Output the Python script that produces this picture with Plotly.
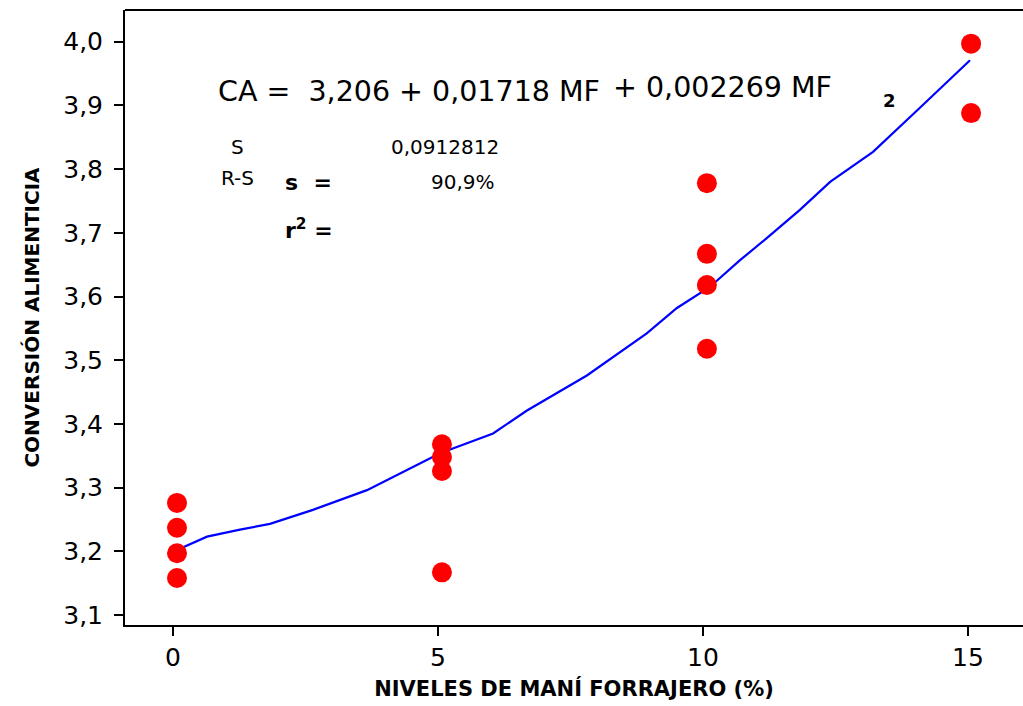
import plotly.graph_objects as go

# Observed data (MF level, feed conversion)
mf_obs = [0.075, 0.075, 0.075, 0.075,
          5.075, 5.075, 5.075, 5.075,
          10.075, 10.075, 10.075, 10.075,
          15.06, 15.06]
ca_obs = [3.276, 3.237, 3.197, 3.158,
          3.368, 3.348, 3.326, 3.167,
          3.778, 3.667, 3.618, 3.518,
          3.997, 3.888]

# Fitted curve as drawn
mf_fit = [0.075, 0.642, 1.264, 1.83, 2.64, 3.66, 5.04, 6.04, 6.68, 7.17, 7.81,
          8.94, 9.51, 10.13, 10.70, 11.21, 11.83, 12.40, 13.21, 14.09, 15.04]
ca_fit = [3.202, 3.223, 3.234, 3.243, 3.265, 3.296, 3.354, 3.385, 3.421, 3.445, 3.476,
          3.542, 3.582, 3.615, 3.657, 3.692, 3.736, 3.780, 3.827, 3.896, 3.971]

x_ticks = [0, 5, 10, 15]
x_tick_labels = ["0", "5", "10", "15"]
y_ticks = [3.1, 3.2, 3.3, 3.4, 3.5, 3.6, 3.7, 3.8, 3.9, 4.0]
y_tick_labels = ["3,1", "3,2", "3,3", "3,4", "3,5", "3,6", "3,7", "3,8", "3,9", "4,0"]

FONT = "DejaVu Sans"

fig = go.Figure()
fig.add_trace(go.Scatter(x=mf_fit, y=ca_fit, mode="lines",
                         line=dict(color="#0000ff", width=2.2), showlegend=False))
fig.add_trace(go.Scatter(x=mf_obs, y=ca_obs, mode="markers",
                         marker=dict(color="#ff0000", size=20, line=dict(width=0)),
                         showlegend=False))

W, H = 1023, 706
L, R, T, B = 125, 0, 10, 81
PW, PH = W - L - R, H - T - B


def px(xp):
    return (xp - L) / PW


def py(yp):
    return (H - B - yp) / PH


annots = [
    dict(text="CA =  3,206 + 0,01718 MF", x=px(216), y=py(92), size=28.5),
    dict(text="+ 0,002269 MF", x=px(611), y=py(87), size=28.5),
    dict(text="<b>2</b>", x=px(881), y=py(101), size=18),
    dict(text="S", x=px(229), y=py(147), size=20),
    dict(text="0,0912812", x=px(389), y=py(147), size=20),
    dict(text="R-S", x=px(219), y=py(178), size=20),
    dict(text="90,9%", x=px(429), y=py(182), size=20),
    dict(text="<b>s  =</b>", x=px(283), y=py(183), size=22),
    dict(text="<b>r<sup>2</sup> =</b>", x=px(283), y=py(229), size=22),
]
for a in annots:
    fig.add_annotation(text=a["text"], x=a["x"], y=a["y"], xref="paper", yref="paper",
                       xanchor="left", yanchor="middle", showarrow=False,
                       font=dict(family=FONT, size=a["size"], color="#000000"))

fig.add_shape(type="line", xref="paper", yref="paper", x0=0, x1=1, y0=1, y1=1,
              line=dict(color="#000000", width=2))

fig.update_layout(
    width=W, height=H,
    margin=dict(l=L, r=R, t=T, b=B),
    paper_bgcolor="white", plot_bgcolor="white",
    font=dict(family=FONT, color="#000000"),
    xaxis=dict(range=[-0.906, 16.04], tickmode="array", tickvals=x_ticks,
               ticktext=x_tick_labels, showgrid=False, zeroline=False,
               showline=True, linecolor="#000000", linewidth=2,
               ticks="outside", ticklen=9, tickwidth=2, tickcolor="#000000",
               tickfont=dict(family=FONT, size=25, color="#000000"),
               title=dict(text="<b>NIVELES DE MANÍ FORRAJERO (%)</b>",
                          font=dict(family=FONT, size=21, color="#000000"),
                          standoff=10)),
    yaxis=dict(range=[3.0843, 4.0498], tickmode="array", tickvals=y_ticks,
               ticktext=y_tick_labels, showgrid=False, zeroline=False,
               showline=True, linecolor="#000000", linewidth=2,
               ticks="outside", ticklen=9, tickwidth=2, tickcolor="#000000",
               ticklabelstandoff=6,
               tickfont=dict(family=FONT, size=25, color="#000000"),
               title=dict(text="<b>CONVERSIÓN ALIMENTICIA</b>",
                          font=dict(family=FONT, size=20, color="#000000"),
                          standoff=18)),
)

fig.write_html("out.html")
